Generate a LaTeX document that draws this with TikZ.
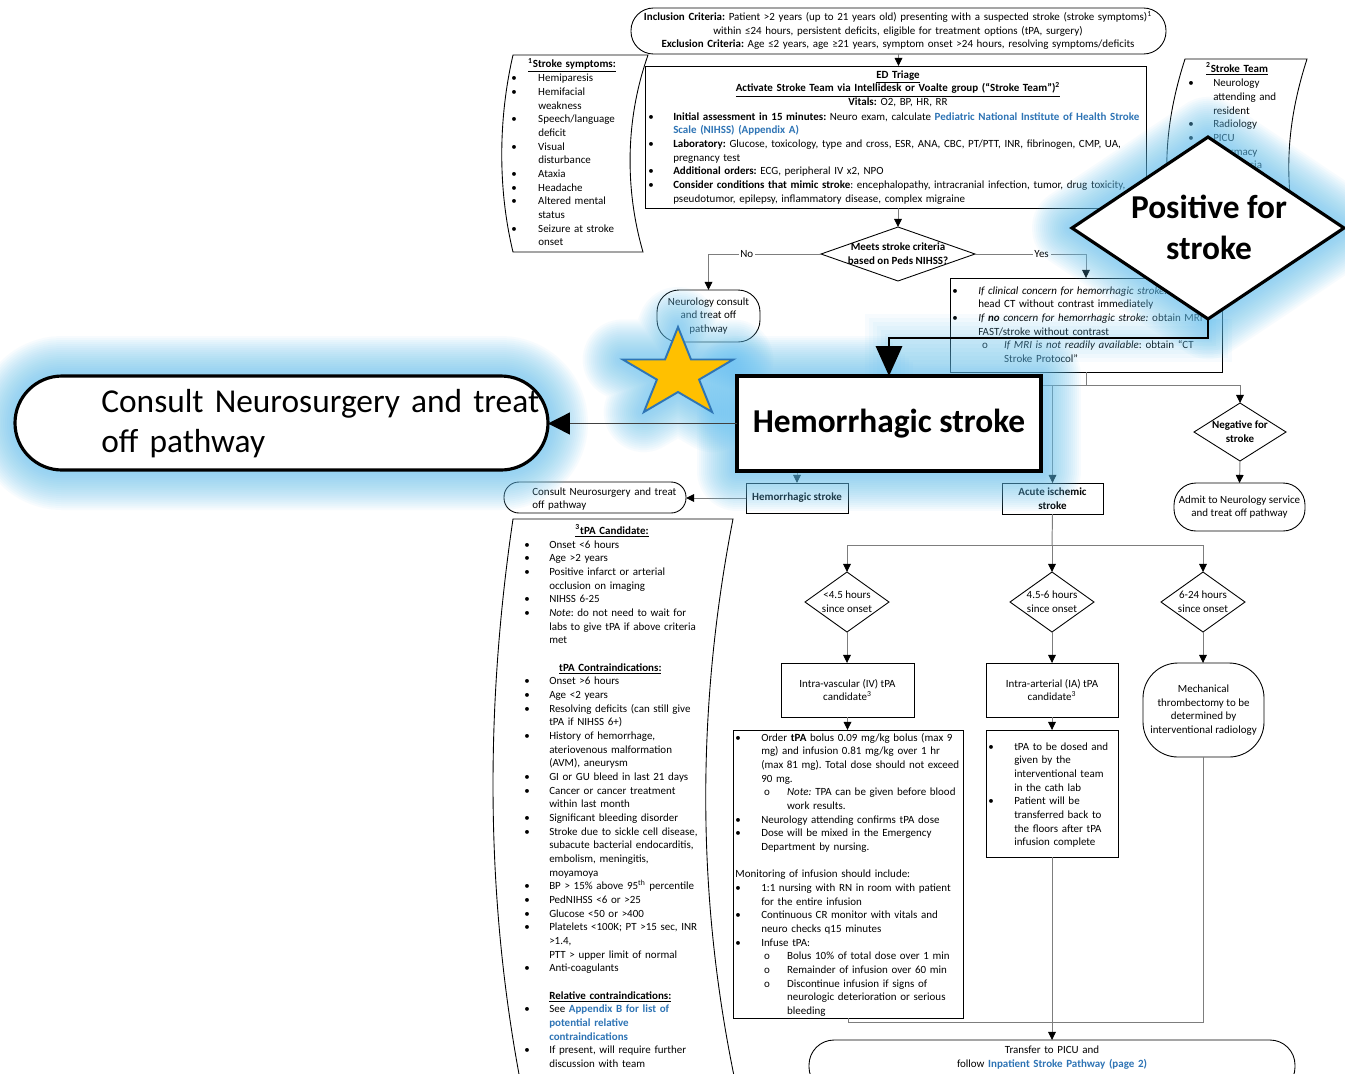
\documentclass[tikz,border=0pt]{standalone}
\usepackage{fontspec}
\setmainfont{Carlito}
\usetikzlibrary{arrows.meta,shapes.geometric,fit,calc}

\definecolor{linkblue}{RGB}{46,116,181}
\definecolor{glowc}{RGB}{100,195,242}
\definecolor{starfill}{RGB}{255,192,0}
\definecolor{starline}{RGB}{47,117,181}
\definecolor{linegray}{RGB}{125,125,125}

% one pixel of the drawing grid
\newlength\pxl \setlength\pxl{0.5669pt}
\newlength\bind
\newcommand\Bu{\makebox[\bind][l]{\textbullet}}
\newcommand\Co{\hspace*{\bind}}
\newcommand\Sb[2]{\hspace*{#1\pxl}\makebox[#2\pxl][l]{o}}
\newcommand\Ul[1]{\smash{\underline{#1}}}
\newcommand\fsm{\frenchspacing\fontsize{6.25}{7.78}\selectfont}
\newcommand\fbg{\frenchspacing\fontsize{19}{23.2}\selectfont}
\newcommand\lk[1]{\textcolor{linkblue}{\textbf{#1}}}

% soft halo: the same outline stroked ever wider and fainter
\newcommand\glow[1]{\foreach \gw in {4,8,...,80}{\path[draw=glowc, draw opacity=0.05, line width=\gw*0.02cm, line join=round] #1;}}
\newcommand\starpath{(678,327) -- (665,359.5) -- (622.8,359.5) -- (656.9,379.6) -- (643.9,412) -- (678,392) -- (712.1,412) -- (699.1,379.6) -- (733.2,359.5) -- (691,359.5) -- cycle}

\pgfdeclarelayer{glowlayer}
\pgfdeclarelayer{toplayer}
\pgfsetlayers{main,glowlayer,toplayer}

\begin{document}
\begin{tikzpicture}[x=0.02cm, y=-0.02cm,
  bx/.style={draw=black, line width=0.5pt, fill=white, inner sep=0pt, outer sep=0pt},
  term/.style={bx, rounded corners=#1},
  dmd/.style={diamond, draw=black, line width=0.5pt, fill=white, inner sep=0pt, outer sep=0pt},
  curved/.style={draw=black, line width=0.5pt, fill=white},
  lbl/.style={font=\fsm, inner sep=0pt, text width=320pt, align=left, anchor=base west},
  clbl/.style={font=\fsm, inner sep=0pt, text width=600pt, align=center, anchor=base},
  mid/.style={font=\fsm, inner sep=0pt, align=center},
  bullind/.style={execute at begin node={\setlength\bind{#1\pxl}}},
  lab/.style={font=\fsm, fill=white, inner sep=1pt},
  line/.style={draw=linegray, line width=0.55pt},
  conn/.style={line, -{Triangle[length=4.6pt,width=4.4pt,color=black]}},
  bigbox/.style={draw=black, line width=1.8pt, fill=white, inner sep=0pt, outer sep=0pt},
  bigconn/.style={draw=black, line width=1.1pt, -{Triangle[length=17pt,width=15pt]}},
  sideconn/.style={draw=black!75, line width=0.8pt, -{Triangle[length=12.5pt,width=12.5pt,color=black]}}
]
\useasboundingbox (0,0) rectangle (1345,1073);
\fill[white] (0,0) rectangle (1345,1073);

% ---------------- entry criteria and triage ----------------
\node[term=0.45cm, fit={(631,8) (1166,54)}] (incl) {};
\node[clbl] (inclt) at (898,20.5) {\textbf{Inclusion Criteria:} Patient >2 years (up to 21 years old) presenting with a suspected stroke (stroke symptoms)\textsuperscript{1}\\
within ≤24 hours, persistent deficits, eligible for treatment options (tPA, surgery)\\
\textbf{Exclusion Criteria:} Age ≤2 years, age ≥21 years, symptom onset >24 hours, resolving symptoms/deficits};

\draw[curved] (513,55) -- (648,55) .. controls (625,120) and (625,190) .. (643,252) -- (513,252) .. controls (498,190) and (498,120) .. (513,55) -- cycle;
\node[clbl] (sympth) at (572,67.5) {\Ul{\textbf{\textsuperscript{1}Stroke symptoms:}}};
\node[lbl, bullind=27] (sympl) at (511,81.7) {\Bu Hemiparesis\\ \Bu Hemifacial\\ \Co weakness\\ \Bu Speech/language\\ \Co deficit\\ \Bu Visual\\ \Co disturbance\\ \Bu Ataxia\\ \Bu Headache\\ \Bu Altered mental\\ \Co status\\ \Bu Seizure at stroke\\ \Co onset};

\draw[curved] (1185,59) -- (1307,59) .. controls (1284,130) and (1284,190) .. (1300,250) -- (1178,250) .. controls (1162,190) and (1162,130) .. (1185,59) -- cycle;
\node[clbl] (teamh) at (1237,72) {\Ul{\textbf{\textsuperscript{2}Stroke Team}}};
\node[lbl, bullind=25] (teaml) at (1188,86.7) {\Bu Neurology\\ \Co attending and\\ \Co resident\\ \Bu Radiology\\ \Bu PICU\\ \Bu Pharmacy\\ \Bu Anesthesia};

\node[bx, fit={(645,66) (1146,208)}] (ed) {};
\node[clbl] (edh) at (898,78.3) {\Ul{\textbf{ED Triage}}\\
\Ul{\textbf{Activate Stroke Team via Intellidesk or Voalte group (“Stroke Team”)\textsuperscript{2}}}\\
\textbf{Vitals:} O2, BP, HR, RR};
\node[lbl, bullind=25] (edl) at (648,120) {\Bu\textbf{Initial assessment in 15 minutes:} Neuro exam, calculate \lk{Pediatric National Institute of Health Stroke}\\
\Co\lk{Scale (NIHSS) (Appendix A)}\\
\Bu\textbf{Laboratory:} Glucose, toxicology, type and cross, ESR, ANA, CBC, PT/PTT, INR, fibrinogen, CMP, UA,\\
\Co pregnancy test\\
\Bu\textbf{Additional orders:} ECG, peripheral IV x2, NPO\\
\Bu\textbf{Consider conditions that mimic stroke}: encephalopathy, intracranial infection, tumor, drug toxicity,\\
\Co pseudotumor, epilepsy, inflammatory disease, complex migraine};

% ---------------- first decision ----------------
\node[dmd, minimum width=3.08cm, minimum height=1.08cm] (d1) at (898,254) {};
\node[mid] (d1t) at (d1) {\textbf{Meets stroke criteria}\\\textbf{based on Peds NIHSS?}};
\node[term=0.44cm, fit={(657,290) (760,342)}] (nc) {};
\node[mid] (nct) at (nc) {Neurology consult\\and treat off\\pathway};
\node[bx, fit={(950,278) (1222,372)}] (ifb) {};
\node[lbl, bullind=26] (ifl) at (952,294) {\Bu\textit{If clinical concern for hemorrhagic stroke:}\\
\Co head CT without contrast immediately\\
\Bu\textit{If \textbf{no} concern for hemorrhagic stroke:} obtain MRI\\
\Co FAST/stroke without contrast\\
\Sb{30}{22}\textit{If MRI is not readily available}: obtain “CT\\
\hspace*{52\pxl}Stroke Protocol”};

\draw[conn] (incl.south) -- (incl.south |- ed.north);
\draw[conn] (d1.north |- ed.south) -- (d1.north);
\draw[conn] (d1.west) -| node[lab, pos=0.33] (no) {No} (nc.north);
\draw[conn] (d1.east) -| node[lab, pos=0.3] (yes) {Yes} (ifb.north);

% ---------------- outcome of imaging ----------------
\node[dmd, minimum width=1.84cm, minimum height=1.16cm] (neg) at (1240,432) {};
\node[mid] (negt) at (neg) {\textbf{Negative for}\\\textbf{stroke}};
\node[term=0.44cm, fit={(1174,483) (1305,531)}] (adm) {};
\node[mid] (admt) at (adm) {Admit to Neurology service\\and treat off pathway};
\node[bx, fit={(746,483) (848,513)}] (hs) {};
\node[mid] (hst) at (hs) {\textbf{Hemorrhagic stroke}};
\node[bx, fit={(1002,483) (1103,514)}] (ais) {};
\node[mid] (aist) at (ais) {\textbf{Acute ischemic}\\\textbf{stroke}};
\node[term=0.3cm, fit={(504,482) (686,513)}] (cs) {};
\node[lbl] (cst) at (532,495) {Consult Neurosurgery and treat\\off pathway};

\coordinate (s2) at (1086,385);
\draw[line] (ifb.south) -- (s2);
\draw[conn] (s2) -| (neg.north);
\draw[conn] (s2) -| (ais.north);
\draw[conn] (s2) -| (hs.north);
\draw[conn] (neg.south) -- (adm.north);
\draw[conn] (hs.west) -- (cs.east |- hs.west);

% ---------------- tPA criteria column ----------------
\draw[curved] (513,519) -- (733,519) .. controls (696,709) and (696,900) .. (737,1090) -- (522,1090) .. controls (485,900) and (485,709) .. (513,519) -- cycle;
\node[clbl] (tpah) at (612,534) {\Ul{\textbf{\textsuperscript{3}tPA Candidate:}}};
\node[lbl, bullind=25] (tpal) at (524,548) {\Bu Onset <6 hours\\
\Bu Age >2 years\\
\Bu Positive infarct or arterial\\
\Co occlusion on imaging\\
\Bu NIHSS 6-25\\
\Bu\textit{Note}: do not need to wait for\\
\Co labs to give tPA if above criteria\\
\Co met\\[7.78pt]
\hspace*{35\pxl}\Ul{\textbf{tPA Contraindications:}}\\
\Bu Onset >6 hours\\
\Bu Age <2 years\\
\Bu Resolving deficits (can still give\\
\Co tPA if NIHSS 6+)\\
\Bu History of hemorrhage,\\
\Co ateriovenous malformation\\
\Co (AVM), aneurysm\\
\Bu GI or GU bleed in last 21 days\\
\Bu Cancer or cancer treatment\\
\Co within last month\\
\Bu Significant bleeding disorder\\
\Bu Stroke due to sickle cell disease,\\
\Co subacute bacterial endocarditis,\\
\Co embolism, meningitis,\\
\Co moyamoya\\
\Bu BP > 15\% above 95\textsuperscript{th} percentile\\
\Bu PedNIHSS <6 or >25\\
\Bu Glucose <50 or >400\\
\Bu Platelets <100K; PT >15 sec, INR\\
\Co >1.4,\\
\Co PTT > upper limit of normal\\
\Bu Anti-coagulants\\[7.78pt]
\Co\Ul{\textbf{Relative contraindications:}}\\
\Bu See \lk{Appendix B for list of}\\
\Co\lk{potential relative}\\
\Co\lk{contraindications}\\
\Bu If present, will require further\\
\Co discussion with team};

% ---------------- ischemic branches ----------------
\node[dmd, minimum width=1.68cm, minimum height=1.2cm] (d2) at (847,602) {};
\node[dmd, minimum width=1.68cm, minimum height=1.2cm] (d3) at (1052,602) {};
\node[dmd, minimum width=1.68cm, minimum height=1.2cm] (d4) at (1203,602) {};
\node[mid] (d2t) at (d2) {<4.5 hours\\since onset};
\node[mid] (d3t) at (d3) {4.5-6 hours\\since onset};
\node[mid] (d4t) at (d4) {6-24 hours\\since onset};

\node[bx, fit={(781,663) (914,717)}] (iv) {};
\node[mid] (ivt) at (iv) {Intra-vascular (IV) tPA\\candidate\textsuperscript{3}};
\node[bx, fit={(986,663) (1118,717)}] (ia) {};
\node[mid] (iat) at (ia) {Intra-arterial (IA) tPA\\candidate\textsuperscript{3}};
\node[term=0.7cm, fit={(1143,663) (1264,757)}] (mech) {};
\node[mid] (mecht) at (mech) {Mechanical\\thrombectomy to be\\determined by\\interventional radiology};

\node[bx, fit={(733,730) (963,1018)}] (ivd) {};
\node[lbl, bullind=26] (ivl) at (735,741) {\Bu Order \textbf{tPA} bolus 0.09 mg/kg bolus (max 9\\
\Co mg) and infusion 0.81 mg/kg over 1 hr\\
\Co (max 81 mg). Total dose should not exceed\\
\Co 90 mg.\\
\Sb{29}{23}\textit{Note:} TPA can be given before blood\\
\hspace*{52\pxl}work results.\\
\Bu Neurology attending confirms tPA dose\\
\Bu Dose will be mixed in the Emergency\\
\Co Department by nursing.\\[7.78pt]
Monitoring of infusion should include:\\
\Bu 1:1 nursing with RN in room with patient\\
\Co for the entire infusion\\
\Bu Continuous CR monitor with vitals and\\
\Co neuro checks q15 minutes\\
\Bu Infuse tPA:\\
\Sb{29}{23}Bolus 10\% of total dose over 1 min\\
\Sb{29}{23}Remainder of infusion over 60 min\\
\Sb{29}{23}Discontinue infusion if signs of\\
\hspace*{52\pxl}neurologic deterioration or serious\\
\hspace*{52\pxl}bleeding};

\node[bx, fit={(986,730) (1118,857)}] (iad) {};
\node[lbl, bullind=26] (ial) at (988,750) {\Bu tPA to be dosed and\\ \Co given by the\\ \Co interventional team\\ \Co in the cath lab\\ \Bu Patient will be\\ \Co transferred back to\\ \Co the floors after tPA\\ \Co infusion complete};

\node[term=0.5cm, fit={(809,1040) (1295,1092)}] (tr) {};
\node[clbl] (trt) at (1052,1053.5) {Transfer to PICU and\\follow \lk{Inpatient Stroke Pathway (page 2)}};

\coordinate (s3) at (1052,545);
\draw[line] (ais.south) -- (s3);
\draw[conn] (s3) -- (d3.north);
\draw[conn] (s3) -| (d2.north);
\draw[conn] (s3) -| (d4.north);
\draw[conn] (d2.south) -- (d2.south |- iv.north);
\draw[conn] (d3.south) -- (d3.south |- ia.north);
\draw[conn] (d4.south) -- (d4.south |- mech.north);
\draw[conn] (iv.south) -- (iv.south |- ivd.north);
\draw[conn] (ia.south) -- (ia.south |- iad.north);
\coordinate (s4) at (1052,1022);
\draw[line] (ivd.south) |- (s4);
\draw[line] (mech.south) |- (s4);
\draw[conn] (iad.south) -- (iad.south |- tr.north);

% ---------------- enlarged call-outs ----------------
\begin{pgfonlayer}{toplayer}
\node[bigbox, diamond, minimum width=5.44cm, minimum height=3.64cm] (pos) at (1208,228) {};
\node[font=\fbg\bfseries, align=center, inner sep=0pt] (post) at (1209,227) {Positive for\\stroke};
\node[bigbox, fit={(737,376) (1041,471)}] (hem) {};
\node[font=\fbg\bfseries, inner sep=0pt] (hemt) at (hem) {Hemorrhagic stroke};
\node[bigbox, rounded corners=0.94cm, fit={(15,376) (548,470)}] (cons) {};
\node[font=\fbg, align=left, inner sep=0pt, text width=500pt, anchor=base west] (const) at (101,412) {Consult Neurosurgery and treat\\off pathway};
\draw[fill=starfill, draw=starline, line width=1.1pt, line join=miter] \starpath;
\draw[bigconn] (pos.south) -- ++(0,19) -| (hem.north);
\draw[sideconn] (hem.west) -- (cons.east |- hem.west);
\end{pgfonlayer}

\begin{pgfonlayer}{glowlayer}
\glow{(pos.north) -- (pos.east) -- (pos.south) -- (pos.west) -- cycle}
\glow{(hem.north west) rectangle (hem.south east)}
\glow{[rounded corners=0.94cm] (cons.north west) rectangle (cons.south east)}
\glow{\starpath}
\foreach \gw in {8,16,...,48}{\path[draw=glowc, draw opacity=0.05, line width=\gw*0.02cm] (pos.south) -- ++(0,19) -| (hem.north);}
\end{pgfonlayer}
\end{tikzpicture}
\end{document}
